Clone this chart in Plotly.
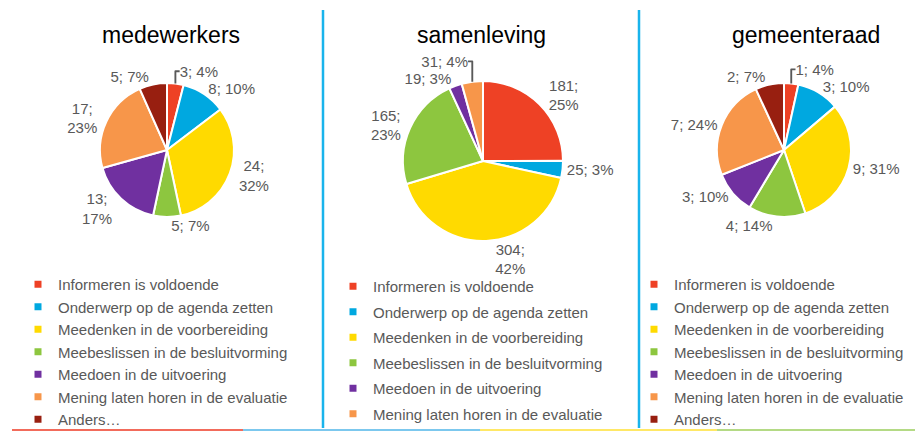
import plotly.graph_objects as go

W, H = 915, 431

categories = [
    "Informeren is voldoende",
    "Onderwerp op de agenda zetten",
    "Meedenken in de voorbereiding",
    "Meebeslissen in de besluitvorming",
    "Meedoen in de uitvoering",
    "Mening laten horen in de evaluatie",
    "Anders…",
]
colors = ["#EE4125", "#00A8E0", "#FFDA00", "#8DC63F", "#7030A0", "#F7964A", "#981F10"]

titles = ["medewerkers", "samenleving", "gemeenteraad"]

medewerkers_values = [3, 8, 24, 5, 13, 17, 5]
medewerkers_pct = [4, 10, 32, 7, 17, 23, 7]

samenleving_values = [181, 25, 304, 165, 19, 31]
samenleving_pct = [25, 3, 42, 23, 3, 4]

gemeenteraad_values = [1, 3, 9, 4, 3, 7, 2]
gemeenteraad_pct = [4, 10, 31, 14, 10, 24, 7]

# label line-wrapping (style)
wraps = [{2, 4, 5}, {0, 2, 3}, set()]

def px(x0, x1):
    return [x0 / W, x1 / W]

def py(y0, y1):
    return [1 - y1 / H, 1 - y0 / H]

panels = [
    dict(values=medewerkers_values, pct=medewerkers_pct, dx=px(100, 234), dy=py(83, 217), tx=171),
    dict(values=samenleving_values, pct=samenleving_pct, dx=px(403, 563), dy=py(81, 241), tx=481),
    dict(values=gemeenteraad_values, pct=gemeenteraad_pct, dx=px(717, 851), dy=py(83, 217), tx=806),
]

fig = go.Figure()
FONT = "Liberation Sans, Arial, sans-serif"
GREY = "#595959"

for k, p in enumerate(panels):
    n = len(p["values"])
    texts = []
    for i in range(n):
        sep = ";<br>" if i in wraps[k] else "; "
        texts.append(f"{p['values'][i]}{sep}{p['pct'][i]}%")
    fig.add_trace(go.Pie(
        labels=categories[:n], values=p["values"], text=texts,
        textinfo="text", textposition="outside",
        sort=False, direction="clockwise", rotation=0,
        marker=dict(colors=colors[:n], line=dict(color="white", width=2)),
        domain=dict(x=p["dx"], y=p["dy"]),
        outsidetextfont=dict(family=FONT, size=15, color=GREY),
        showlegend=False, hoverinfo="label+value+percent",
    ))
    fig.add_annotation(text=titles[k], x=p["tx"] / W, y=1 - 35 / H, xref="paper", yref="paper",
                       showarrow=False, xanchor="center", yanchor="middle",
                       font=dict(family=FONT, size=23, color="black"))
    lg = "legend" if k == 0 else f"legend{k + 1}"
    for i in range(n):
        fig.add_trace(go.Scatter(
            x=[None], y=[None], mode="markers", name=categories[i],
            marker=dict(symbol="square", size=7, color=colors[i]),
            legend=lg, legendgroup=f"{k}-{i}", showlegend=True,
        ))

leg_common = dict(font=dict(family=FONT, size=15, color=GREY), bgcolor="rgba(0,0,0,0)",
                  xanchor="left", yanchor="top", itemclick=False, itemdoubleclick=False)
fig.update_layout(
    legend=dict(x=18 / W, y=1 - 268 / H, tracegroupgap=0, **leg_common),
    legend2=dict(x=333 / W, y=1 - 270 / H, tracegroupgap=3, **leg_common),
    legend3=dict(x=634 / W, y=1 - 268 / H, tracegroupgap=0, **leg_common),
)

# separators and bottom band
shapes = []
for xs in (323, 639):
    shapes.append(dict(type="line", xref="paper", yref="paper", x0=xs / W, x1=xs / W,
                       y0=1 - 428 / H, y1=1 - 10 / H, line=dict(color="#19B4EC", width=2.5)))
band = [(12, 243, "#F26B5B"), (243, 480, "#7CC8EE"), (480, 717, "#FFE866"), (717, 915, "#B4DA85")]
for x0, x1, c in band:
    shapes.append(dict(type="line", xref="paper", yref="paper", x0=x0 / W, x1=x1 / W,
                       y0=1 - 430 / H, y1=1 - 430 / H, line=dict(color=c, width=2)))

fig.update_layout(
    width=W, height=H, margin=dict(l=0, r=0, t=0, b=0, autoexpand=False),
    paper_bgcolor="white", plot_bgcolor="white", shapes=shapes,
    xaxis=dict(visible=False), yaxis=dict(visible=False),
)

fig.write_html("out.html", config={"displayModeBar": False},
               post_script="document.body.style.margin='0';document.body.style.overflow='hidden';")
